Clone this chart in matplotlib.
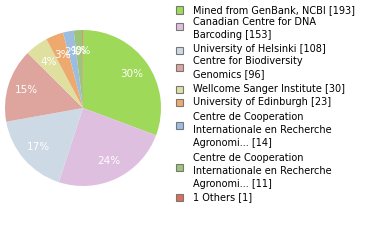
import numpy as np
from matplotlib import pyplot as plt
from matplotlib.patches import Rectangle

labels = ['Mined from GenBank, NCBI [193]',
          'Canadian Centre for DNA\nBarcoding [153]',
          'University of Helsinki [108]',
          'Centre for Biodiversity\nGenomics [96]',
          'Wellcome Sanger Institute [30]',
          'University of Edinburgh [23]',
          'Centre de Cooperation\nInternationale en Recherche\nAgronomi... [14]',
          'Centre de Cooperation\nInternationale en Recherche\nAgronomi... [11]',
          '1 Others [1]']
counts = [193, 153, 108, 96, 30, 23, 14, 11, 1]
colors = ['#9ed95a', '#dfbfe0', '#cddae6', '#dea59e', '#dfe0a0',
          '#eeaa6e', '#9dbde0', '#9ec37a', '#d9705a']

# legend layout, pixels from top
text_y = [10, 22, 49, 61, 89, 102, 117, 158, 197]
box_y = [10, 26, 50, 67, 89, 102, 125, 167, 197]

W, H = 380, 240
fig = plt.figure(figsize=(W/100, H/100), dpi=100)

cx, cy, r = 83, 108, 78
ax = fig.add_axes([(cx-r)/W, (H-cy-r)/H, 2*r/W, 2*r/H])
total = sum(counts)
pct = ['%d%%' % int(100*c/total) for c in counts]
wedges, texts = ax.pie(counts, colors=colors, startangle=90, counterclock=False,
                       radius=1, wedgeprops=dict(linewidth=0))
for w, p in zip(wedges, pct):
    ang = np.deg2rad((w.theta1 + w.theta2)/2)
    d = 0.76 if w.theta2 - w.theta1 > 20 else 0.73
    ax.text(d*np.cos(ang), d*np.sin(ang), p, ha='center', va='center',
            color='white', fontsize=7.5)
ax.set_xlim(-1, 1)
ax.set_ylim(-1, 1)
ax.axis('off')

for i, lab in enumerate(labels):
    fig.patches.append(Rectangle((176/W, 1-(box_y[i]+3.5)/H), 7/W, 7/H,
                                 facecolor=colors[i], edgecolor='#777777',
                                 linewidth=0.8, transform=fig.transFigure))
    fig.text(193/W, 1-(text_y[i]-5)/H, lab, fontsize=7, va='top', ha='left',
             linespacing=1.35)

plt.savefig('out.png', dpi=100)
